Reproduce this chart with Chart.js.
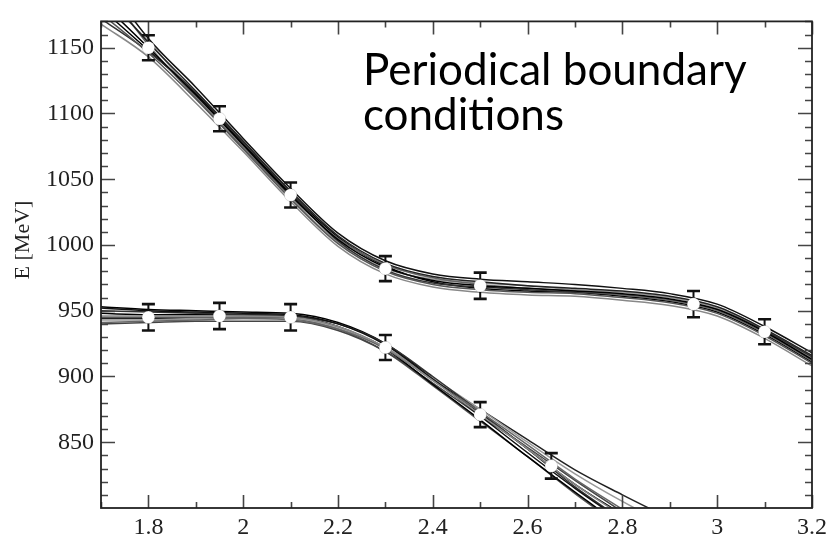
<!DOCTYPE html>
<html><head><meta charset="utf-8">
<script src="https://cdn.jsdelivr.net/npm/chart.js@4.4.1/dist/chart.umd.min.js"></script>
<style>html,body{margin:0;padding:0;background:#fff;}#wrap{position:relative;width:832px;height:539px;}</style>
</head><body><div id="wrap"><canvas id="c" width="832" height="539"></canvas></div>
<script>
// ---- data ----
const upperX = [1.7,1.8,1.9,2.0,2.1,2.2,2.3,2.4,2.5,2.6,2.7,2.8,2.9,3.0,3.1,3.2];
const upper0 = [1185,1150,1114,1076,1038,1004,983,973,969,967,965,963,959,951,934,913];
const upper1 = [1176,1146,1111,1073,1035,1001,980,970,966,964,963,960,956,948,931,910];
const upper2 = [1195,1154,1117,1079,1041,1007,986,976,972,969,967,965,961,953,936,916];
const upper3 = [1168,1143,1108,1071,1033,999,978,968,964,962,961,958,954,946,929,908];
const upper4 = [1205,1157,1120,1081,1043,1009,988,978,974,972,970,967,963,955,938,918];
const upper5 = [1200,1152,1112,1074,1037,1005,985,975,970,967,965,962,958,950,933,912];
const upper6 = [1172,1147,1116,1078,1040,1003,981,971,968,966,964,962,958,951,935,915];
const upper7 = [1190,1155,1113,1075,1036,1002,982,974,971,969,966,964,960,952,935,914];
const upper8 = [1180,1148,1115,1077,1039,1006,984,972,967,965,964,961,957,949,932,911];

const lowerX = [1.7,1.8,1.9,2.0,2.1,2.2,2.3,2.4,2.5,2.6,2.7,2.8,2.9];
const lower0 = [946,946,946,946,945,938,922,897,871,845,818,794,770];
const lower1 = [952,950,949,948,947,940,924,898,870,842,815,790,765];
const lower2 = [941,942,943,944,943,936,921,897,873,848,822,799,776];
const lower3 = [950,949,948,947,946,940,925,900,873,845,816,791,766];
const lower4 = [943,943,944,944,944,937,922,899,875,850,826,805,786];
const lower5 = [948,947,947,947,946,938,921,894,867,839,812,786,760];
const lower6 = [940,941,942,942,942,935,919,895,870,846,821,797,773];
const lower7 = [953,951,950,949,948,941,925,899,872,845,818,795,772];
const lower8 = [945,945,945,945,944,936,919,893,866,839,811,785,759];
const lower9 = [944,944,944,945,944,937,922,898,875,852,829,810,792];

const upperPtsX = [1.8,1.95,2.1,2.3,2.5,2.95,3.1];
const upperPtsY = [1150,1096,1038,982,969,955,934];
const upperErr  = [9.5,9.5,9.5,9.5,10,10,9.5];
const lowerPtsX = [1.8,1.95,2.1,2.3,2.5,2.65];
const lowerPtsY = [945,946,945,922,871,832];
const lowerErr  = [10,10,10,9.5,9.5,9.7];

const xTicks = [1.8,2,2.2,2.4,2.6,2.8,3,3.2];
const yTicks = [850,900,950,1000,1050,1100,1150];
const xRange = [1.7,3.2];
const yRange = [800,1170];
const yTitle = 'E [MeV]';
const noteLines = ['Periodical boundary','conditions'];

// ---- build ----
const serif = '"Liberation Serif", "Times New Roman", Times, serif';
Chart.defaults.font.family = serif;
Chart.defaults.font.size = 24;
Chart.defaults.color = '#222';
const curveColors = ['#000','#555','#222','#888','#111','#666','#333','#999','#000','#444'];
const upperCurves = [upper0,upper1,upper2,upper3,upper4,upper5,upper6,upper7,upper8];
const lowerCurves = [lower0,lower1,lower2,lower3,lower4,lower5,lower6,lower7,lower8,lower9];
const datasets = [];
function curveDs(xs, ys, i){
  return {data: xs.map((x,k)=>({x:x,y:ys[k]})), showLine:true, pointRadius:0, borderWidth:1.5,
    borderColor: curveColors[i%curveColors.length], cubicInterpolationMode:'monotone', fill:false, order:5};
}
upperCurves.forEach((c,i)=>datasets.push(curveDs(upperX,c,i)));
lowerCurves.forEach((c,i)=>datasets.push(curveDs(lowerX,c,i+3)));
function ptsDs(xs, ys, err){
  return {data: xs.map((x,k)=>({x:x,y:ys[k]})), errors: err, showLine:false, pointRadius:6.3,
    pointBackgroundColor:'#fff', pointBorderColor:'rgba(0,0,0,0.15)', pointBorderWidth:0.8, order:0};
}
datasets.push(ptsDs(upperPtsX,upperPtsY,upperErr));
datasets.push(ptsDs(lowerPtsX,lowerPtsY,lowerErr));

const errorBars = {
  id:'errorBars',
  beforeDatasetDraw(chart,args){
    const ds = chart.data.datasets[args.index];
    if(!ds.errors) return;
    const ctx = chart.ctx, xs = chart.scales.x, ys = chart.scales.y;
    ctx.save();
    ctx.strokeStyle = '#111';
    ds.data.forEach((p,k)=>{
      const px = xs.getPixelForValue(p.x);
      const y1 = ys.getPixelForValue(p.y + ds.errors[k]);
      const y2 = ys.getPixelForValue(p.y - ds.errors[k]);
      ctx.lineWidth = 2;
      ctx.beginPath(); ctx.moveTo(px,y1); ctx.lineTo(px,y2); ctx.stroke();
      ctx.lineWidth = 2.6;
      ctx.beginPath(); ctx.moveTo(px-6.5,y1); ctx.lineTo(px+6.5,y1);
      ctx.moveTo(px-6.5,y2); ctx.lineTo(px+6.5,y2); ctx.stroke();
    });
    ctx.restore();
  }
};

const frame = {
  id:'frame',
  afterDatasetsDraw(chart){
    const {ctx, chartArea:a, scales:{x,y}} = chart;
    ctx.save();
    ctx.strokeStyle = '#444';
    ctx.lineWidth = 1.6;
    ctx.beginPath();
    for(let i=17;i<=32;i++){
      const v = i/10; const px = Math.round(x.getPixelForValue(v))+0.5;
      const major = xTicks.some(t=>Math.abs(t-v)<1e-6);
      const L = major?13:6;
      ctx.moveTo(px,a.bottom); ctx.lineTo(px,a.bottom-L);
      ctx.moveTo(px,a.top); ctx.lineTo(px,a.top+L);
    }
    for(let v=810; v<=1170; v+=10){
      const py = Math.round(y.getPixelForValue(v))+0.5;
      const major = yTicks.includes(v);
      const L = major?14:7;
      ctx.moveTo(a.left,py); ctx.lineTo(a.left+L,py);
      ctx.moveTo(a.right,py); ctx.lineTo(a.right-L,py);
    }
    ctx.stroke();
    ctx.strokeStyle = '#222';
    ctx.lineWidth = 1.8;
    ctx.strokeRect(a.left,a.top,a.right-a.left,a.bottom-a.top);
    ctx.restore();
  },
  afterDraw(chart){
    const ctx = chart.ctx;
    ctx.save();
    ctx.fillStyle = '#000';
    ctx.font = '44px Lato';
    ctx.textBaseline = 'alphabetic';
    ctx.fillText(noteLines[0], 363, 85);
    ctx.fillText(noteLines[1], 363, 130);
    ctx.translate(23, 240);
    ctx.rotate(-Math.PI/2);
    ctx.font = '22px ' + serif;
    ctx.fillStyle = '#222';
    ctx.textAlign = 'center';
    ctx.textBaseline = 'middle';
    ctx.fillText(yTitle, 0, 0);
    ctx.restore();
  }
};

new Chart(document.getElementById('c'), {
  type:'scatter',
  data:{datasets},
  options:{
    responsive:false, animation:false, devicePixelRatio:1,
    layout:{padding:{top:9.5,right:18,left:0,bottom:0}},
    plugins:{legend:{display:false}, tooltip:{enabled:false}},
    scales:{
      x:{type:'linear', min:xRange[0], max:xRange[1],
        afterBuildTicks:(s)=>{s.ticks = xTicks.map(v=>({value:v}));},
        afterFit:(s)=>{s.height = 31;},
        grid:{display:false, drawTicks:false}, border:{display:false},
        ticks:{padding:5, color:'#222', font:{family:serif, size:24},
          maxRotation:0, autoSkip:false, callback:(v)=>String(+(+v).toFixed(1))}},
      y:{type:'linear', min:yRange[0], max:yRange[1],
        afterBuildTicks:(s)=>{s.ticks = yTicks.map(v=>({value:v}));},
        afterFit:(s)=>{s.width = 101;},
        grid:{display:false, drawTicks:false}, border:{display:false},
        ticks:{padding:7, color:'#222', font:{family:serif, size:24}, autoSkip:false,
          callback:(v)=>String(Math.round(+v))}}
    }
  },
  plugins:[errorBars, frame]
});
</script></body></html>
